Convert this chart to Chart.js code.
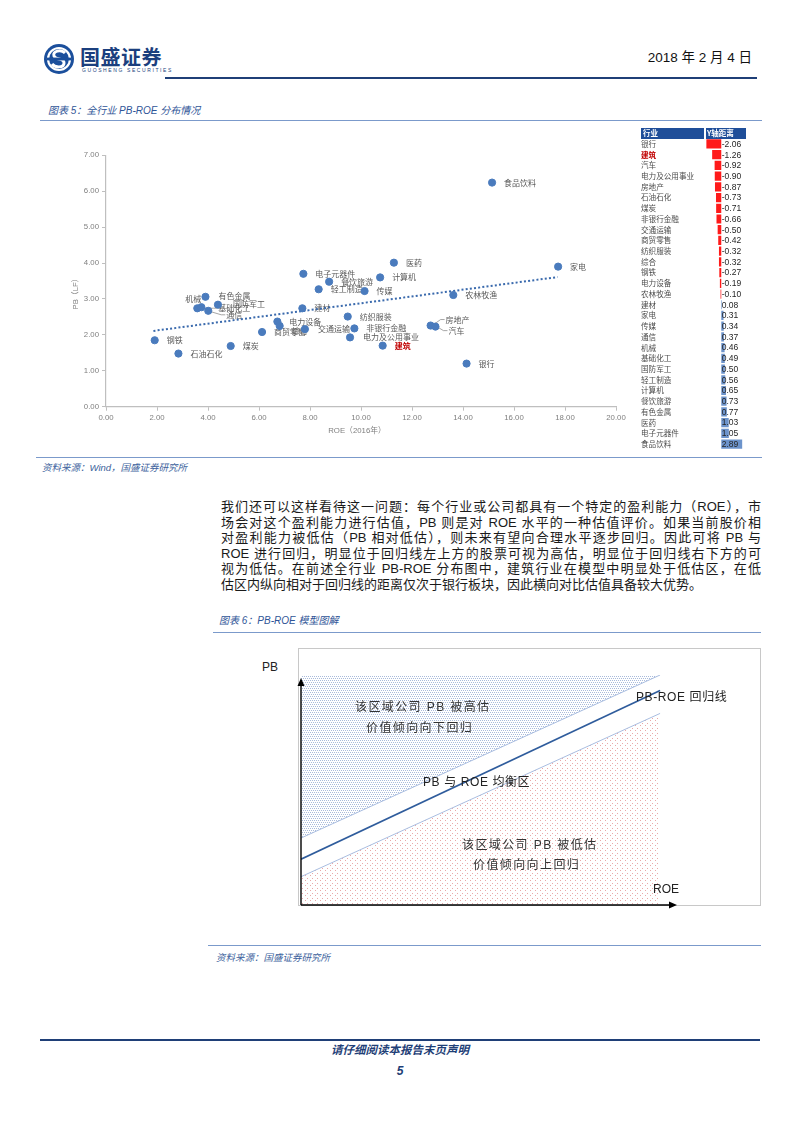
<!DOCTYPE html>
<html lang="zh-CN">
<head>
<meta charset="utf-8">
<title>全行业 PB-ROE 分布情况</title>
<script src="https://cdn.jsdelivr.net/npm/chart.js@4.4.1/dist/chart.umd.min.js"></script>
<style>
  html, body { margin: 0; padding: 0; background: #fff; }
  body { width: 800px; height: 1132px; position: relative; overflow: hidden;
         font-family: "Liberation Sans", "Noto Sans CJK SC", sans-serif; color: #222; }
  .abs { position: absolute; white-space: nowrap; }
  .rule { position: absolute; height: 0; }
  .caption { font-size: 10px; line-height: 14px; font-style: italic; color: #2f5597; }
  .source { font-size: 9.5px; line-height: 14px; font-style: italic; color: #3c5f9c; }
  .para { position: absolute; left: 221px; width: 540px; font-size: 13px; line-height: 15.6px;
          height: 15.6px; text-align: justify; text-align-last: justify; white-space: nowrap; color: #1a1a1a; }
  .para.last { text-align-last: left; }
  .note { font-size: 12px; line-height: 16px; color: #333; letter-spacing: 1.4px; }
  canvas { position: absolute; }
</style>
</head>
<body>

<!-- header -->
<svg class="abs" style="left:42px;top:42px" width="34" height="34" viewBox="0 0 34 34">
  <circle cx="17" cy="17" r="15" fill="#1b4f9c"/>
  <circle cx="17" cy="17" r="11" fill="none" stroke="#fff" stroke-width="2.2"/>
  <path d="M23,11 C19,7 10,9 12,14 C14,19 22,15 22,21 C22,26 13,26 10,22" fill="none" stroke="#fff" stroke-width="3"/>
  <rect x="5" y="15.6" width="24" height="2.8" fill="#1b4f9c"/>
</svg>
<div class="abs" style="left:80px;top:46px;font-size:20px;line-height:24px;font-weight:bold;color:#1b3f7e;letter-spacing:0.5px">国盛证券</div>
<div class="abs" style="left:82px;top:67px;font-size:5px;line-height:7px;color:#1b3f7e;letter-spacing:1.6px">GUOSHENG SECURITIES</div>
<div class="abs" style="right:48px;top:49px;font-size:13.5px;line-height:17px;color:#111">2018 年 2 月 4 日</div>
<div class="rule" style="left:165px;width:592px;top:76.5px;border-top:2.5px solid #1f3f77"></div>

<!-- figure 5 -->
<div class="abs caption" style="left:48px;top:103.5px">图表 5：全行业 PB-ROE 分布情况</div>
<div class="rule" style="left:40px;width:722px;top:120px;border-top:1px solid #7b9acb"></div>
<canvas id="scatterChart" width="595" height="320" style="left:40px;top:130px;width:595px;height:320px"></canvas>
<canvas id="tableChart" width="130" height="328" style="left:638px;top:126px;width:130px;height:328px"></canvas>
<div class="rule" style="left:36px;width:726px;top:456.5px;border-top:1px solid #7b9acb"></div>
<div class="abs source" style="left:42px;top:461px">资料来源：Wind，国盛证券研究所</div>

<!-- paragraph -->
<div class="para" style="top:498.9px">我们还可以这样看待这一问题：每个行业或公司都具有一个特定的盈利能力（ROE），市</div>
<div class="para" style="top:514.5px">场会对这个盈利能力进行估值，PB 则是对 ROE 水平的一种估值评价。如果当前股价相</div>
<div class="para" style="top:530.1px">对盈利能力被低估（PB 相对低估），则未来有望向合理水平逐步回归。因此可将 PB 与</div>
<div class="para" style="top:545.7px">ROE 进行回归，明显位于回归线左上方的股票可视为高估，明显位于回归线右下方的可</div>
<div class="para" style="top:561.3px">视为低估。在前述全行业 PB-ROE 分布图中，建筑行业在模型中明显处于低估区，在低</div>
<div class="para last" style="top:576.9px">估区内纵向相对于回归线的距离仅次于银行板块，因此横向对比估值具备较大优势。</div>

<!-- figure 6 -->
<div class="abs caption" style="left:219px;top:614px">图表 6：PB-ROE 模型图解</div>
<div class="rule" style="left:213px;width:548px;top:632px;border-top:1px solid #7b9acb"></div>
<div class="abs" style="left:298px;top:648px;width:461px;height:256px;border:1px solid #c8c8c8"></div>
<canvas id="modelChart" width="420" height="250" style="left:290px;top:660px;width:420px;height:250px"></canvas>
<div class="abs" style="left:262px;top:659px;font-size:12px;line-height:16px;color:#222">PB</div>
<div class="abs note" style="left:355px;top:699px">该区域公司 PB 被高估</div>
<div class="abs note" style="left:366px;top:720px">价值倾向向下回归</div>
<div class="abs note" style="left:423px;top:774px;color:#222;letter-spacing:0.6px">PB 与 ROE 均衡区</div>
<div class="abs note" style="left:462px;top:837px">该区域公司 PB 被低估</div>
<div class="abs note" style="left:473px;top:857px">价值倾向向上回归</div>
<div class="abs note" style="left:636px;top:689px;color:#222;letter-spacing:0.6px">PB-ROE 回归线</div>
<div class="abs" style="left:653px;top:881px;font-size:12px;line-height:16px;color:#222">ROE</div>
<div class="rule" style="left:208px;width:553px;top:945px;border-top:1px solid #7b9acb"></div>
<div class="abs source" style="left:216px;top:951px">资料来源：国盛证券研究所</div>

<!-- footer -->
<div class="rule" style="left:40px;width:720px;top:1039px;border-top:2.5px solid #1f3f77"></div>
<div class="abs" style="left:0;width:800px;top:1042px;text-align:center;font-size:11.5px;line-height:16px;font-weight:bold;font-style:italic;color:#1f3f77">请仔细阅读本报告末页声明</div>
<div class="abs" style="left:0;width:800px;top:1063px;text-align:center;font-size:12px;line-height:16px;font-weight:bold;font-style:italic;color:#1f3f77">5</div>

<script>
// Scatter data: industry, ROE (2016), PB (LF)
const industries = ['钢铁', '石油石化', '煤炭', '有色金属', '机械', '基础化工', '通信', '国防军工',
  '商贸零售', '电力设备', '综合', '交通运输', '建材', '电子元器件', '餐饮旅游', '轻工制造',
  '纺织服装', '非银行金融', '电力及公用事业', '建筑', '食品饮料', '医药', '家电', '计算机',
  '传媒', '农林牧渔', '房地产', '汽车', '银行'];
const roe = [1.91, 2.84, 4.89, 3.90, 3.58, 3.74, 4.01, 4.39,
  6.12, 6.72, 6.81, 7.80, 7.70, 7.74, 8.75, 8.34,
  9.48, 9.74, 9.57, 10.85, 15.14, 11.29, 17.73, 10.75,
  10.14, 13.62, 12.73, 12.92, 14.14];
const pb = [1.85, 1.48, 1.69, 3.06, 2.74, 2.77, 2.67, 2.84,
  2.08, 2.37, 2.25, 2.16, 2.74, 3.70, 3.48, 3.27,
  2.51, 2.18, 1.93, 1.70, 6.24, 4.01, 3.90, 3.60,
  3.22, 3.11, 2.26, 2.23, 1.20];

// Dotted regression line end points
const trendRoe = [1.86, 17.71];
const trendPb = [2.11, 3.61];

// Side table: distance from the regression line on the Y axis
const tableIndustries = ['银行', '建筑', '汽车', '电力及公用事业', '房地产', '石油石化', '煤炭',
  '非银行金融', '交通运输', '商贸零售', '纺织服装', '综合', '钢铁', '电力设备', '农林牧渔',
  '建材', '家电', '传媒', '通信', '机械', '基础化工', '国防军工', '轻工制造', '计算机',
  '餐饮旅游', '有色金属', '医药', '电子元器件', '食品饮料'];
const yDistance = [-2.06, -1.26, -0.92, -0.90, -0.87, -0.73, -0.71,
  -0.66, -0.50, -0.42, -0.32, -0.32, -0.27, -0.19, -0.10,
  0.08, 0.31, 0.34, 0.37, 0.46, 0.49, 0.50, 0.56, 0.65,
  0.73, 0.77, 1.03, 1.05, 2.89];

// Model sketch (figure 6), arbitrary units 0-10
const modelX = [0, 9.55];
const upperBand = [2.91, 10];
const regressionLine = [1.99, 9.33];
const lowerBand = [1.23, 8.33];

const cjk = '"Noto Sans CJK SC"';
const tickFont = { family: '"Liberation Sans"', size: 7.8 };

// where a label sits relative to its point (pixels); default is to the right
const labelPlace = {
  '机械': { dx: 4, dy: -9, align: 'right' },
  '有色金属': { dx: 13, dy: -1 },
  '基础化工': { dx: 17, dy: 1, leader: true },
  '国防军工': { dx: 15, dy: -1 },
  '通信': { dx: 18, dy: 4, leader: true },
  '综合': { dx: 12, dy: 5 },
  '交通运输': { dx: 13, dy: 0 },
  '电力及公用事业': { dx: 13, dy: 0 },
  '房地产': { dx: 15, dy: -6, leader: true },
  '汽车': { dx: 13, dy: 4, leader: true }
};

const pointLabels = {
  id: 'pointLabels',
  beforeDatasetsDraw(chart) {
    const ctx = chart.ctx;
    const pts = chart.getDatasetMeta(0).data;
    ctx.save();
    ctx.textBaseline = 'middle';
    pts.forEach((p, i) => {
      const name = industries[i];
      const place = labelPlace[name] || { dx: 12, dy: 0 };
      const tx = p.x + place.dx;
      const ty = p.y + place.dy;
      if (place.leader) {
        ctx.strokeStyle = '#808080';
        ctx.lineWidth = 0.7;
        ctx.beginPath();
        ctx.moveTo(p.x + 3, p.y + (place.dy > 0 ? 1 : -1));
        ctx.lineTo(tx - 5, ty);
        ctx.lineTo(tx - 1, ty);
        ctx.stroke();
      }
      const red = name === '建筑';
      ctx.font = (red ? 'bold ' : '') + '8px ' + cjk;
      ctx.fillStyle = red ? '#c00000' : '#595959';
      ctx.textAlign = place.align || 'left';
      ctx.fillText(name, tx, ty);
    });
    ctx.restore();
  },
  afterDraw(chart) {
    const ctx = chart.ctx;
    const area = chart.chartArea;
    ctx.save();
    ctx.fillStyle = '#7f7f7f';
    ctx.font = '7.8px "Liberation Sans", ' + cjk;
    ctx.textAlign = 'center';
    ctx.textBaseline = 'middle';
    ctx.fillText('ROE（2016年）', (area.left + area.right) / 2 - 4, area.bottom + 24);
    ctx.translate(area.left - 30, (area.top + area.bottom) / 2 + 11);
    ctx.rotate(-Math.PI / 2);
    ctx.fillText('PB（LF）', 0, 0);
    ctx.restore();
  }
};

new Chart(document.getElementById('scatterChart'), {
  type: 'scatter',
  data: {
    datasets: [
      {
        label: '行业',
        data: industries.map((n, i) => ({ x: roe[i], y: pb[i] })),
        backgroundColor: '#4a7bbd',
        borderColor: '#4a7bbd',
        pointRadius: 3.6,
        pointHoverRadius: 3.6
      },
      {
        label: '回归线',
        data: trendRoe.map((x, i) => ({ x: x, y: trendPb[i] })),
        showLine: true,
        borderColor: '#3a6aad',
        borderWidth: 2,
        borderDash: [2, 2.2],
        pointRadius: 0,
        fill: false
      }
    ]
  },
  options: {
    responsive: false,
    animation: false,
    layout: { padding: { top: 25.3, right: 19, left: 0, bottom: 0 } },
    plugins: { legend: { display: false }, tooltip: { enabled: false } },
    scales: {
      x: {
        type: 'linear', min: 0, max: 20,
        ticks: { stepSize: 2, callback: v => v.toFixed(2), font: tickFont, color: '#7f7f7f', padding: 2, maxRotation: 0 },
        grid: { drawOnChartArea: false, drawTicks: true, tickLength: 4, color: '#bfbfbf' },
        border: { color: '#bfbfbf', width: 1.2 },
        afterFit: s => { s.height = 43.3; }
      },
      y: {
        type: 'linear', min: 0, max: 7,
        ticks: { stepSize: 1, callback: v => v.toFixed(2), font: tickFont, color: '#7f7f7f', padding: 3 },
        grid: { drawOnChartArea: false, drawTicks: true, tickLength: 4, color: '#bfbfbf' },
        border: { color: '#bfbfbf', width: 1.2 },
        afterFit: s => { s.width = 66; }
      }
    }
  },
  plugins: [pointLabels]
});

// side table with data bars
const tableDecor = {
  id: 'tableDecor',
  beforeDraw(chart) {
    const ctx = chart.ctx;
    ctx.save();
    ctx.fillStyle = '#1f4e99';
    ctx.fillRect(3, 2, 63, 11);
    ctx.fillRect(68, 2, 40, 11);
    ctx.fillStyle = '#fff';
    ctx.font = 'bold 7.5px ' + cjk;
    ctx.textBaseline = 'middle';
    ctx.fillText('行业', 5, 7.5);
    ctx.fillText('Y轴距离', 69, 7.5);
    ctx.restore();
  },
  afterDatasetsDraw(chart) {
    const ctx = chart.ctx;
    const xs = chart.scales.x;
    const ys = chart.scales.y;
    const x0 = xs.getPixelForValue(0);
    ctx.save();
    ctx.font = '8.5px "Liberation Sans"';
    ctx.fillStyle = '#262626';
    ctx.textBaseline = 'middle';
    ctx.textAlign = 'left';
    yDistance.forEach((v, i) => {
      ctx.fillText(v.toFixed(2), x0 + 0.5, ys.getPixelForValue(i) + 0.5);
    });
    ctx.restore();
  }
};

new Chart(document.getElementById('tableChart'), {
  type: 'bar',
  data: {
    labels: tableIndustries,
    datasets: [{
      data: yDistance,
      backgroundColor: yDistance.map(v => v < 0 ? '#ff1a1a' : '#6c93cb'),
      barPercentage: 0.86,
      categoryPercentage: 1
    }]
  },
  options: {
    indexAxis: 'y',
    responsive: false,
    animation: false,
    layout: { padding: { top: 12.6, bottom: 2.6, left: 3, right: 22.5 } },
    plugins: { legend: { display: false }, tooltip: { enabled: false } },
    scales: {
      x: { display: false, min: -2.25, max: 3.35 },
      y: {
        ticks: {
          crossAlign: 'far',
          autoSkip: false,
          padding: 0,
          color: c => tableIndustries[c.index] === '建筑' ? '#c00000' : '#4d4d4d',
          font: c => ({ family: cjk, size: 7.6, weight: tableIndustries[c.index] === '建筑' ? 'bold' : 'normal' })
        },
        grid: { display: false },
        border: { display: false },
        afterFit: s => { s.width = 64; }
      }
    }
  },
  plugins: [tableDecor]
});

// model sketch with dotted fills
function dotPattern(size, dots, color, base) {
  const c = document.createElement('canvas');
  c.width = size; c.height = size;
  const g = c.getContext('2d');
  g.fillStyle = base;
  g.fillRect(0, 0, size, size);
  g.fillStyle = color;
  dots.forEach(d => g.fillRect(d[0], d[1], 1, 1));
  return g.createPattern(c, 'repeat');
}
const ctxModel = document.getElementById('modelChart').getContext('2d');
const bluePattern = dotPattern(4, [[0, 0], [2, 0], [1, 2], [3, 2]], '#a9bbdb', '#ffffff');
const pinkPattern = dotPattern(5, [[0, 0], [2, 3]], '#eaa8a8', '#ffffff');

const axisArrows = {
  id: 'axisArrows',
  afterDatasetsDraw(chart) {
    const ctx = chart.ctx;
    const xs = chart.scales.x;
    const ys = chart.scales.y;
    const ox = xs.getPixelForValue(0);
    const oy = ys.getPixelForValue(0);
    const topY = ys.getPixelForValue(9.87);
    const rightX = xs.getPixelForValue(10);
    ctx.save();
    ctx.strokeStyle = '#000';
    ctx.fillStyle = '#000';
    ctx.lineWidth = 1.4;
    ctx.beginPath();
    ctx.moveTo(ox, oy); ctx.lineTo(ox, topY + 6);
    ctx.moveTo(ox, oy); ctx.lineTo(rightX - 6, oy);
    ctx.stroke();
    ctx.beginPath();
    ctx.moveTo(ox, topY); ctx.lineTo(ox - 3.5, topY + 8); ctx.lineTo(ox + 3.5, topY + 8); ctx.closePath();
    ctx.moveTo(rightX, oy); ctx.lineTo(rightX - 8, oy - 3.5); ctx.lineTo(rightX - 8, oy + 3.5); ctx.closePath();
    ctx.fill();
    ctx.restore();
  }
};

new Chart(ctxModel, {
  type: 'line',
  data: {
    datasets: [
      {
        data: modelX.map((x, i) => ({ x: x, y: upperBand[i] })),
        borderColor: '#a9bde0', borderWidth: 1, pointRadius: 0,
        fill: 'end', backgroundColor: bluePattern
      },
      {
        data: modelX.map((x, i) => ({ x: x, y: regressionLine[i] })),
        borderColor: '#2f5c9c', borderWidth: 1.6, pointRadius: 0, fill: false
      },
      {
        data: modelX.map((x, i) => ({ x: x, y: lowerBand[i] })),
        borderColor: '#a9bde0', borderWidth: 1, pointRadius: 0,
        fill: 'start', backgroundColor: pinkPattern
      }
    ]
  },
  options: {
    responsive: false,
    animation: false,
    layout: { padding: { left: 11, right: 33, top: 15, bottom: 5 } },
    plugins: { legend: { display: false }, tooltip: { enabled: false } },
    scales: {
      x: { type: 'linear', min: 0, max: 10, display: false },
      y: { type: 'linear', min: 0, max: 10, display: false }
    }
  },
  plugins: [axisArrows]
});
</script>
</body>
</html>
